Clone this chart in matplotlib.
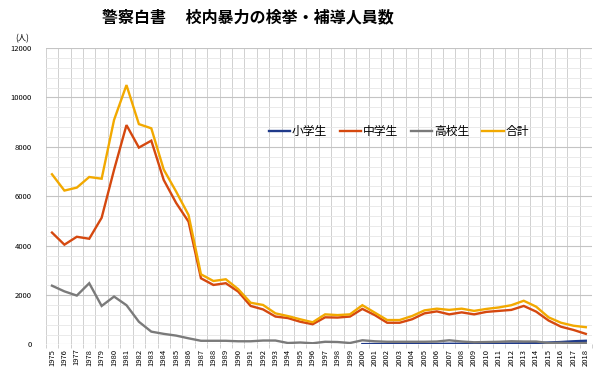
import matplotlib
matplotlib.use("Agg")
import matplotlib.pyplot as plt
import numpy as np
from matplotlib.ticker import MultipleLocator, FixedLocator

plt.rcParams['font.family'] = ['Noto Sans CJK JP', 'DejaVu Sans']

years = list(range(1975, 2019))

shogaku = [np.nan]*25 + [15, 20, 20, 20, 20, 20, 25, 30, 30, 30, 30, 35, 40, 45, 55, 80, 100, 130, 150]

chugaku = [4530, 4040, 4360, 4280, 5130, 7070, 8880, 7970, 8250, 6660, 5730, 4970,
           2680, 2410, 2480, 2140, 1560, 1420, 1130, 1070, 920, 820, 1100, 1090, 1130,
           1440, 1190, 880, 880, 1020, 1260, 1340, 1220, 1300, 1220, 1320, 1360, 1400,
           1560, 1330, 970, 720, 590, 430]

kokou = [2380, 2150, 1980, 2480, 1560, 1940, 1590, 920, 520, 430, 360, 250,
         150, 150, 150, 130, 130, 160, 160, 60, 80, 50, 110, 100, 60, 170,
         130, 110, 110, 110, 110, 120, 170, 120, 90, 100, 110, 130, 120, 120,
         60, 70, 50, 60]

goukei = [6890, 6230, 6350, 6780, 6710, 9090, 10500, 8920, 8750, 7080, 6190, 5240,
          2840, 2570, 2640, 2240, 1690, 1600, 1260, 1150, 1020, 900, 1220, 1190, 1220,
          1590, 1290, 990, 990, 1150, 1380, 1450, 1400, 1450, 1360, 1440, 1500, 1590,
          1770, 1530, 1100, 880, 760, 700]

series_names = ['小学生', '中学生', '高校生', '合計']
colors = ['#1f3a8a', '#d5480f', '#7a7a7a', '#f2a900']

title = '警察白書\u3000 校内暴力の検挙・補導人員数'

fig = plt.figure(figsize=(6.0, 3.76), dpi=100)
ax = fig.add_axes([0.0763, 0.0838, 0.9104, 0.7885])

x = np.arange(len(years))
for data, name, c in zip([shogaku, chugaku, kokou, goukei], series_names, colors):
    ax.plot(x, data, color=c, lw=1.7, label=name, solid_joinstyle='miter')

ax.set_xlim(-0.5, len(years) - 0.5)
ax.set_ylim(0, 12000)
ax.yaxis.set_major_locator(MultipleLocator(2000))
ax.yaxis.set_minor_locator(MultipleLocator(400))
ax.xaxis.set_major_locator(FixedLocator(x))
ax.xaxis.set_minor_locator(FixedLocator(np.arange(-0.5, len(years), 1.0)))
ax.set_xticklabels([str(y) for y in years], rotation=90, fontsize=5.5)
ax.tick_params(axis='y', which='both', labelsize=5.5, length=0, pad=10)
ax.tick_params(axis='x', which='major', length=0, pad=3)
ax.tick_params(axis='x', which='minor', length=3, color='#c8c8c8')

ax.grid(which='major', axis='y', color='#c4c4c4', lw=0.8)
ax.grid(which='minor', axis='y', color='#e6e6e6', lw=0.6)
ax.grid(which='minor', axis='x', color='#d0d0d0', lw=0.7)
ax.set_axisbelow(True)
for s in ax.spines.values():
    s.set_visible(False)

fig.text(0.413, 0.955, title, ha='center', va='center', fontsize=11.5, fontweight='bold')
fig.text(0.037, 0.898, '(人)', ha='center', va='center', fontsize=6)

leg = ax.legend(loc='center', bbox_to_anchor=(0.646, 0.717), ncol=4, frameon=False,
                fontsize=8.5, handlelength=1.8, handletextpad=0.15, columnspacing=1.1)

fig.savefig('out.png', dpi=100, facecolor='white')
